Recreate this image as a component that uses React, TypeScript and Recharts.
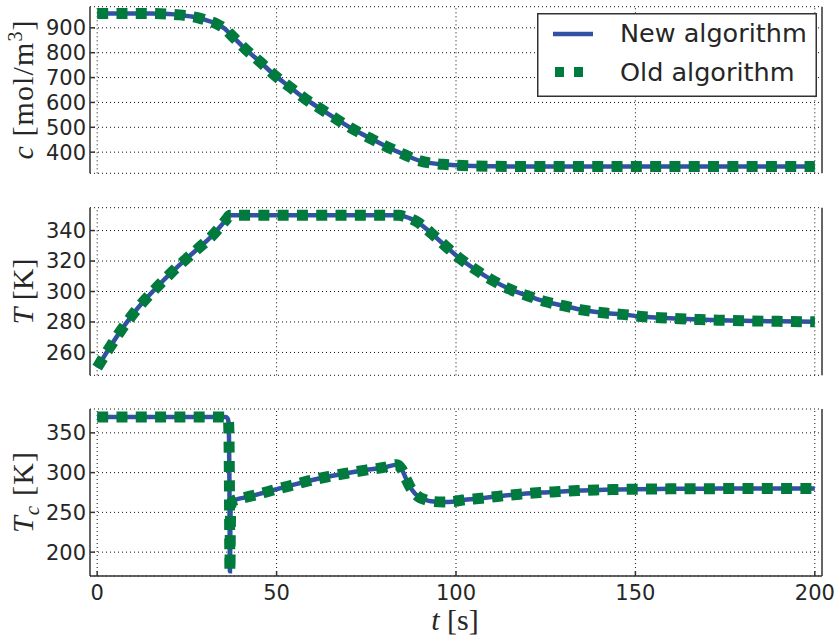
import React from 'react';
import { LineChart, Line, XAxis, YAxis, CartesianGrid, Legend, ReferenceLine } from 'recharts';

// ---- data ----
const tTicks = [0, 50, 100, 150, 200];
const cTicks = [400, 500, 600, 700, 800, 900];
const TTicks = [260, 280, 300, 320, 340];
const TcTicks = [200, 250, 300, 350];

// concentration c [mol/m3]
const cTime = [0, 5, 10, 15, 20, 23, 26, 28.2, 30.5, 33.3, 35.5, 37.5, 41.5, 45.4, 49.5, 53.7, 57.9, 62.4, 67, 71.6, 76.2, 81, 85.8, 90, 93, 96.3, 100, 105, 110, 120, 140, 160, 180, 200];
const cNew = [958, 958, 958, 957.5, 955.5, 952, 946, 940, 930, 916, 897, 869, 812, 763, 709, 662, 615, 573, 530, 490, 455, 420, 389, 365, 356, 351, 347.5, 344.5, 343, 342.3, 342, 342, 342, 342];
const cOld = [958, 958, 958, 957.5, 955.5, 952, 946, 940, 930, 916, 897, 869, 812, 763, 709, 662, 615, 573, 530, 490, 455, 420, 389, 365, 356, 351, 347.5, 344.5, 343, 342.3, 342, 342, 342, 342];

// temperature T [K]
const TTime = [0, 3.5, 6.5, 9.6, 13, 16.8, 20.5, 24.5, 28.4, 32.3, 34, 36, 37, 45, 60, 75, 84, 86, 87.5, 89.3, 91, 93, 97, 101, 105.6, 110, 114.9, 119.9, 125.1, 130.2, 135.5, 140.9, 146.2, 151.6, 156.9, 162.4, 167.8, 173.1, 180, 190, 200];
const TNew = [250, 263.3, 274, 284, 293.7, 303.2, 312, 320.7, 328.8, 337.2, 341.8, 347.3, 350, 350, 350, 350, 350, 349, 347.7, 345.5, 342.5, 338.5, 330, 321.8, 314.1, 307.6, 301.6, 297.2, 293.3, 290.5, 287.8, 286, 285, 283.6, 282.8, 282.1, 281.6, 281.2, 280.8, 280.4, 280.1];
const TOld = [250, 263.3, 274, 284, 293.7, 303.2, 312, 320.7, 328.8, 337.2, 341.8, 347.3, 350, 350, 350, 350, 350, 349, 347.7, 345.5, 342.5, 338.5, 330, 321.8, 314.1, 307.6, 301.6, 297.2, 293.3, 290.5, 287.8, 286, 285, 283.6, 282.8, 282.1, 281.6, 281.2, 280.8, 280.4, 280.1];

// coolant temperature Tc [K]
const TcTime = [0, 10, 20, 30, 35, 35.8, 36.3, 36.6, 36.75, 36.85, 37.0, 37.1, 37.3, 38, 39, 41, 43.3, 48.6, 53.7, 58.8, 64.2, 69.5, 74.8, 80.2, 83.5, 84.9, 86, 87.2, 88.5, 90, 91.4, 93, 96.5, 99, 101.9, 107.2, 112.6, 117.8, 123.4, 128.8, 134.1, 139.8, 145, 150, 160, 170, 180, 190, 200];
const TcNew = [370, 370, 370, 370, 370, 369.8, 368.5, 364, 340, 290, 176, 225, 262, 264.5, 266.5, 268.5, 271, 277.5, 283.4, 289.5, 294.8, 299.2, 303.2, 306.8, 310, 304, 293, 282, 274, 268.5, 266, 264, 263, 263.5, 265.5, 267.8, 270.7, 272.9, 274.9, 276.2, 277.5, 278.3, 278.8, 279.2, 279.6, 279.8, 280, 280, 280];
const TcOld = [370, 370, 370, 370, 370, 369.8, 368.5, 364, 340, 290, 176, 225, 262, 264.5, 266.5, 268.5, 271, 277.5, 283.4, 289.5, 294.8, 299.2, 303.2, 306.8, 310, 304, 293, 282, 274, 268.5, 266, 264, 263, 263.5, 265.5, 267.8, 270.7, 272.9, 274.9, 276.2, 277.5, 278.3, 278.8, 279.2, 279.6, 279.8, 280, 280, 280];

const seriesNames = ['New algorithm', 'Old algorithm'];

const cData = cTime.map((t, i) => ({ t, newAlg: cNew[i], oldAlg: cOld[i] }));
const TData = TTime.map((t, i) => ({ t, newAlg: TNew[i], oldAlg: TOld[i] }));
const TcData = TcTime.map((t, i) => ({ t, newAlg: TcNew[i], oldAlg: TcOld[i] }));

// ---- styles ----
const BLUE = '#3052a2';
const GREEN = '#007a3d';
const AXIS = '#333333';
const TEXT = '#262626';
const GRID = '#111111';
const SERIF = '"Liberation Serif", "Times New Roman", serif';
const tickStyle = { fontSize: 21, fill: TEXT, fontFamily: 'DejaVu Sans' };

const LegendBox = () => (
  <svg width={280} height={84} style={{ display: 'block' }}>
    <rect x={0.75} y={0.75} width={278.5} height={82.5} fill="#fff" stroke={AXIS} strokeWidth={1.5} />
    <line x1={16} x2={56} y1={21} y2={21} stroke={BLUE} strokeWidth={4.5} />
    <text x={83} y={29} fontFamily="DejaVu Sans" fontSize={25.5} fill={TEXT}>{seriesNames[0]}</text>
    <rect x={18} y={54} width={9} height={10} fill={GREEN} />
    <rect x={37} y={54} width={9} height={10} fill={GREEN} />
    <text x={83} y={68} fontFamily="DejaVu Sans" fontSize={25.5} fill={TEXT}>{seriesNames[1]}</text>
  </svg>
);

type YLabKind = 'c' | 'T' | 'Tc';

const makeYLabel = (kind: YLabKind) => (props: any) => {
  const vb = props && props.viewBox ? props.viewBox : { x: 0, y: 0, width: 90, height: 167 };
  const x0 = vb.x + 33;
  const y0 = vb.y + vb.height / 2;
  const common = {
    x: x0,
    y: y0,
    transform: `rotate(-90, ${x0}, ${y0})`,
    textAnchor: 'middle' as const,
    fontFamily: SERIF,
    fontSize: 30,
    fill: TEXT,
  };
  if (kind === 'c') {
    return (
      <text {...common} textLength={139} lengthAdjust="spacing">
        <tspan fontStyle="italic">c</tspan>
        <tspan> [mol/m</tspan>
        <tspan fontSize={20} dy={-11}>3</tspan>
        <tspan dy={11}>]</tspan>
      </text>
    );
  }
  if (kind === 'T') {
    return (
      <text {...common}>
        <tspan fontStyle="italic">T</tspan>
        <tspan> [K]</tspan>
      </text>
    );
  }
  return (
    <text {...common} textLength={81} lengthAdjust="spacing">
      <tspan fontStyle="italic">T</tspan>
      <tspan fontStyle="italic" fontSize={21} dy={6}>c</tspan>
      <tspan dy={-6}>  [K]</tspan>
    </text>
  );
};

const XLabel = (props: any) => {
  const vb = props && props.viewBox ? props.viewBox : { x: 90, y: 186, width: 732, height: 62 };
  return (
    <text x={vb.x + vb.width / 2 - 1} y={vb.y + 54} textAnchor="middle" fontFamily={SERIF} fontSize={30} fill={TEXT}>
      <tspan fontStyle="italic">t</tspan>
      <tspan> [s]</tspan>
    </text>
  );
};

type PanelProps = {
  data: { t: number; newAlg: number; oldAlg: number }[];
  top: number;
  height: number;
  mTop: number;
  mBottom: number;
  yDomain: [number, number];
  yTicks: number[];
  showX: boolean;
  yLabel: YLabKind;
  legend?: boolean;
};

const Panel = ({ data, top, height, mTop, mBottom, yDomain, yTicks, showX, yLabel, legend }: PanelProps) => (
  <div style={{ position: 'absolute', left: 0, top }}>
    <LineChart width={839} height={height} data={data} margin={{ top: mTop, right: 0, bottom: mBottom, left: 0 }}>
      <CartesianGrid stroke={GRID} strokeDasharray="1 3" strokeWidth={1} vertical={false} />
      {tTicks.map((t) => (
        <ReferenceLine key={`vg${t}`} x={t} stroke={GRID} strokeDasharray="1 3" strokeWidth={1} />
      ))}
      <XAxis
        dataKey="t"
        type="number"
        domain={[-2, 202]}
        ticks={tTicks}
        interval={0}
        allowDataOverflow
        height={showX ? 62 : 0}
        tickSize={-5}
        tickMargin={14}
        tick={showX ? tickStyle : false}
        stroke={AXIS}
        strokeWidth={1.5}
        label={showX ? XLabel : undefined}
      />
      <XAxis
        xAxisId="top"
        orientation="top"
        dataKey="t"
        type="number"
        domain={[-2, 202]}
        ticks={tTicks}
        interval={0}
        allowDataOverflow
        height={0}
        tickSize={-5}
        tick={false}
        stroke={AXIS}
        strokeWidth={1.5}
      />
      <YAxis
        type="number"
        domain={yDomain}
        ticks={yTicks}
        interval={0}
        allowDataOverflow
        width={90}
        tickSize={-5}
        tickMargin={9}
        tick={tickStyle}
        stroke={AXIS}
        strokeWidth={1.5}
        label={makeYLabel(yLabel)}
      />
      <YAxis
        yAxisId="right"
        orientation="right"
        type="number"
        domain={yDomain}
        ticks={yTicks}
        interval={0}
        allowDataOverflow
        width={17}
        tickSize={-5}
        tick={false}
        stroke={AXIS}
        strokeWidth={1.5}
      />
      <Line
        name={seriesNames[0]}
        dataKey="newAlg"
        type="monotone"
        stroke={BLUE}
        strokeWidth={4.5}
        dot={false}
        activeDot={false}
        isAnimationActive={false}
      />
      <Line
        name={seriesNames[1]}
        dataKey="oldAlg"
        type="monotone"
        stroke={GREEN}
        strokeWidth={11}
        strokeDasharray="11 8.3"
        strokeLinecap="butt"
        dot={false}
        activeDot={false}
        isAnimationActive={false}
      />
      {legend && (
        <Legend
          layout="vertical"
          align="center"
          verticalAlign="middle"
          content={() => <LegendBox />}
          wrapperStyle={{ position: 'absolute', left: 537, top: 13, width: 280, height: 84 }}
        />
      )}
    </LineChart>
  </div>
);

export default function App() {
  return (
    <div style={{ position: 'absolute', left: 0, top: 0, width: 839, height: 638, background: '#fff' }}>
      <Panel data={cData} top={0} height={183} mTop={6.7} mBottom={9.7} yDomain={[315, 985]} yTicks={cTicks} showX={false} yLabel="c" legend />
      <Panel data={TData} top={190} height={195} mTop={17.7} mBottom={9.7} yDomain={[245, 355]} yTicks={TTicks} showX={false} yLabel="T" />
      <Panel data={TcData} top={390} height={248} mTop={19} mBottom={0} yDomain={[170, 380]} yTicks={TcTicks} showX={true} yLabel="Tc" />
    </div>
  );
}
